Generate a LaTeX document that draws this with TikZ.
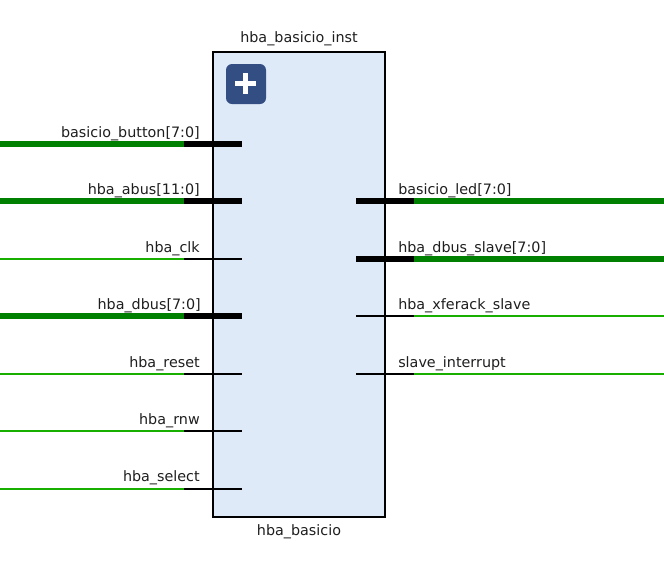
\documentclass[tikz,border=0pt]{standalone}
\usepackage{fontspec}
\usepackage{xcolor}
\setmainfont{DejaVu Sans}
\usetikzlibrary{calc,positioning}
\definecolor{blockfill}{RGB}{223,234,248}
\definecolor{iconblue}{RGB}{50,78,130}
\definecolor{busgreen}{RGB}{0,128,0}
\definecolor{netgreen}{RGB}{24,175,0}
\definecolor{lbltext}{RGB}{30,30,30}

\begin{document}
\begin{tikzpicture}[x=0.75pt,y=-0.75pt]
\tikzstyle{blk}=[draw=black, line width=1.5pt, fill=blockfill, minimum width=129pt, minimum height=348.75pt, inner sep=0pt]
\tikzstyle{lbl}=[inner sep=0pt, font=\fontsize{10.75}{12}\selectfont, text=lbltext]
\tikzstyle{lbll}=[lbl, anchor=base east]
\tikzstyle{lblr}=[lbl, anchor=base west]
\tikzstyle{bus}=[line width=4.5pt]
\tikzstyle{net}=[line width=1.5pt]
\useasboundingbox (0,0) rectangle (664,562);

\node[blk] (B) at (299,284.5) {};
\node[lbl, anchor=base] (Bi) at (299,42) {hba\_basicio\_inst};
\node[lbl, anchor=base] (Bn) at (299,535) {hba\_basicio};
\node[fill=iconblue, rounded corners=4.5pt, minimum size=30pt, inner sep=0pt] (Ic) at (246,84) {};
\draw[white, line width=3.75pt] (235,83.5) -- (256,83.5);
\draw[white, line width=3.75pt] (245.5,73) -- (245.5,94);

% left ports
\coordinate (L1a) at (0,144);   \coordinate (L1b) at (184,144); \coordinate (L1c) at (242,144);
\coordinate (L2a) at (0,201);   \coordinate (L2b) at (184,201); \coordinate (L2c) at (242,201);
\coordinate (L3a) at (0,259);   \coordinate (L3b) at (184,259); \coordinate (L3c) at (242,259);
\coordinate (L4a) at (0,316);   \coordinate (L4b) at (184,316); \coordinate (L4c) at (242,316);
\coordinate (L5a) at (0,374);   \coordinate (L5b) at (184,374); \coordinate (L5c) at (242,374);
\coordinate (L6a) at (0,431);   \coordinate (L6b) at (184,431); \coordinate (L6c) at (242,431);
\coordinate (L7a) at (0,489);   \coordinate (L7b) at (184,489); \coordinate (L7c) at (242,489);
\draw[bus, busgreen] (L1a) -- (L1b);
\draw[bus, black] (L1b) -- (L1c);
\draw[bus, busgreen] (L2a) -- (L2b);
\draw[bus, black] (L2b) -- (L2c);
\draw[net, netgreen] (L3a) -- (L3b);
\draw[net, black] (L3b) -- (L3c);
\draw[bus, busgreen] (L4a) -- (L4b);
\draw[bus, black] (L4b) -- (L4c);
\draw[net, netgreen] (L5a) -- (L5b);
\draw[net, black] (L5b) -- (L5c);
\draw[net, netgreen] (L6a) -- (L6b);
\draw[net, black] (L6b) -- (L6c);
\draw[net, netgreen] (L7a) -- (L7b);
\draw[net, black] (L7b) -- (L7c);
\node[lbll] (L1) at (200,137) {basicio\_button[7:0]};
\node[lbll] (L2) at (200,194) {hba\_abus[11:0]};
\node[lbll] (L3) at (200,252) {hba\_clk};
\node[lbll] (L4) at (201,309) {hba\_dbus[7:0]};
\node[lbll] (L5) at (200,367) {hba\_reset};
\node[lbll] (L6) at (200,424) {hba\_rnw};
\node[lbll] (L7) at (200,481) {hba\_select};

% right ports
\coordinate (R1a) at (356,201); \coordinate (R1b) at (414,201); \coordinate (R1c) at (664,201);
\coordinate (R2a) at (356,259); \coordinate (R2b) at (414,259); \coordinate (R2c) at (664,259);
\coordinate (R3a) at (356,316); \coordinate (R3b) at (414,316); \coordinate (R3c) at (664,316);
\coordinate (R4a) at (356,374); \coordinate (R4b) at (414,374); \coordinate (R4c) at (664,374);
\draw[bus, black] (R1a) -- (R1b);
\draw[bus, busgreen] (R1b) -- (R1c);
\draw[bus, black] (R2a) -- (R2b);
\draw[bus, busgreen] (R2b) -- (R2c);
\draw[net, black] (R3a) -- (R3b);
\draw[net, netgreen] (R3b) -- (R3c);
\draw[net, black] (R4a) -- (R4b);
\draw[net, netgreen] (R4b) -- (R4c);
\node[lblr] (R1) at (398,194) {basicio\_led[7:0]};
\node[lblr] (R2) at (398,252) {hba\_dbus\_slave[7:0]};
\node[lblr] (R3) at (398,309) {hba\_xferack\_slave};
\node[lblr] (R4) at (398,367) {slave\_interrupt};
\end{tikzpicture}
\end{document}
